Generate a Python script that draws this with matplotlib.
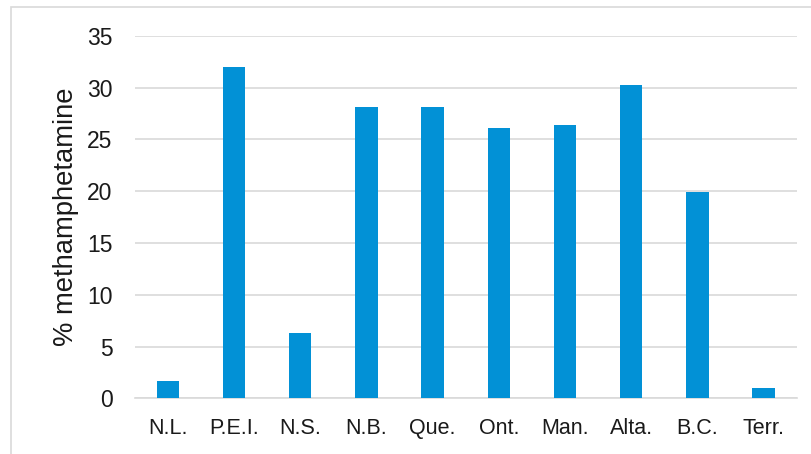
import matplotlib
matplotlib.use("Agg")
import matplotlib.pyplot as plt
from matplotlib.patches import Rectangle

categories = ["N.L.", "P.E.I.", "N.S.", "N.B.", "Que.", "Ont.", "Man.", "Alta.", "B.C.", "Terr."]
values = [1.7, 32.0, 6.3, 28.1, 28.1, 26.1, 26.4, 30.2, 19.9, 1.0]
yticks = [0, 5, 10, 15, 20, 25, 30, 35]

plt.rcParams['font.family'] = ['Liberation Sans', 'DejaVu Sans']

fig = plt.figure(figsize=(8.12, 4.54), dpi=100)
fig.patches.append(Rectangle((11/812, -0.1), 1.2, 1 - 7/454 + 0.1, transform=fig.transFigure,
                             fill=False, edgecolor='#d9d9d9', linewidth=1.2, figure=fig))
ax = fig.add_axes([134.7/812, 1 - 398.3/454, (796.7 - 134.7)/812, (398.3 - 35.7)/454])

x = list(range(len(categories)))
ax.bar(x, values, width=0.337, color='#0291d6', zorder=3)
ax.set_xlim(-0.5, len(categories) - 0.5)
ax.set_ylim(0, 35)
ax.set_yticks(yticks)
ax.set_xticks(x)
ax.set_xticklabels(categories)
ax.grid(axis='y', color='#d9d9d9', linewidth=1.2, zorder=0)
for s in ['top', 'right', 'left']:
    ax.spines[s].set_visible(False)
ax.spines['bottom'].set_color('#d9d9d9')
ax.spines['bottom'].set_linewidth(1.2)
ax.tick_params(axis='y', length=0, pad=16, labelsize=16.5, labelcolor='#1a1a1a')
ax.tick_params(axis='x', length=0, pad=14, labelsize=15.5, labelcolor='#1a1a1a')
ax.set_ylabel('% methamphetamine', fontsize=19.7, color='#1a1a1a', labelpad=6)

fig.savefig('out.png', dpi=100)
